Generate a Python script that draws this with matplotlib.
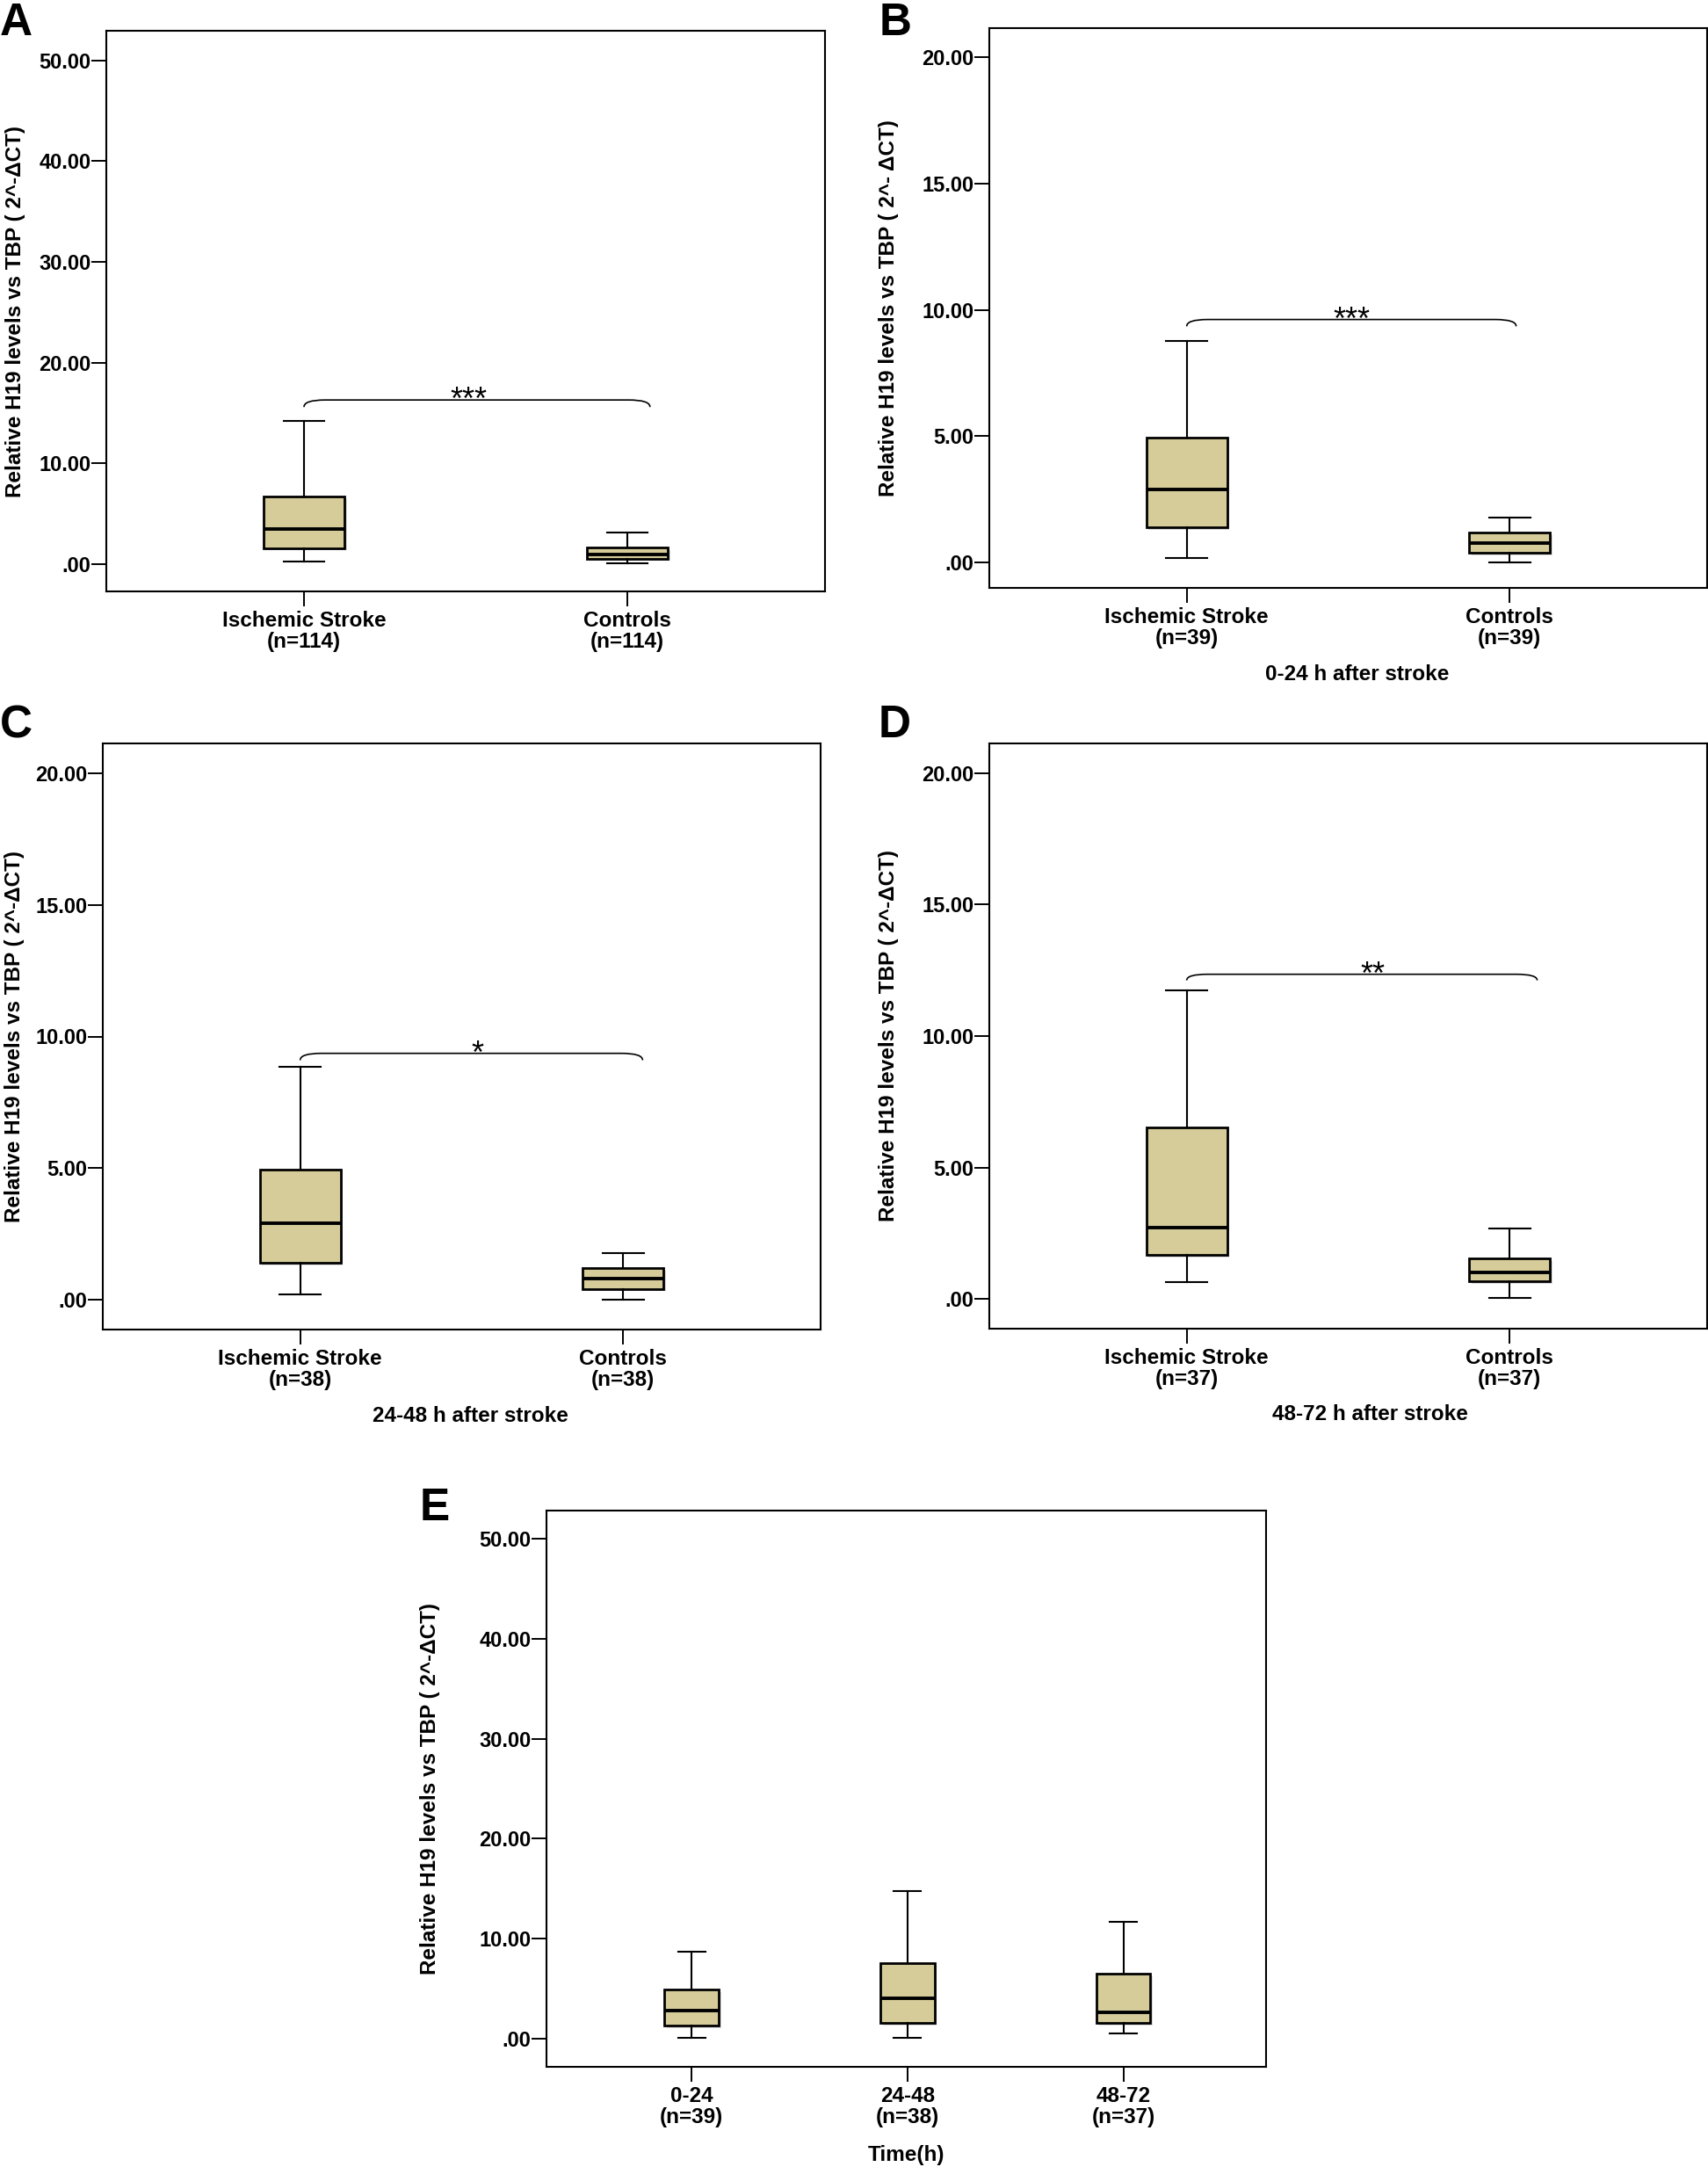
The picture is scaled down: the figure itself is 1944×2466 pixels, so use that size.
import matplotlib
matplotlib.use("Agg")
import matplotlib.pyplot as plt
import matplotlib.patheffects as pe
from matplotlib.path import Path
from matplotlib.patches import PathPatch
from matplotlib.ticker import FuncFormatter

plt.rcParams['font.family'] = ['Liberation Sans', 'DejaVu Sans']

W, H = 1944, 2466

# ---------------- dane ----------------
# kolejnosc w kazdej liscie: [whislo, q1, med, q3, whishi]
labels_A = ['Ischemic Stroke\n(n=114)', 'Controls\n(n=114)']
stroke_A = [0.30, 1.61, 3.45, 6.68, 14.20]
controls_A = [0.12, 0.57, 0.94, 1.68, 3.18]

labels_B = ['Ischemic Stroke\n(n=39)', 'Controls\n(n=39)']
stroke_B = [0.19, 1.40, 2.89, 4.96, 8.78]
controls_B = [0.00, 0.38, 0.79, 1.18, 1.77]

labels_C = ['Ischemic Stroke\n(n=38)', 'Controls\n(n=38)']
stroke_C = [0.21, 1.40, 2.91, 4.94, 8.84]
controls_C = [0.00, 0.42, 0.79, 1.21, 1.79]

labels_D = ['Ischemic Stroke\n(n=37)', 'Controls\n(n=37)']
stroke_D = [0.63, 1.68, 2.70, 6.54, 11.73]
controls_D = [0.05, 0.68, 1.00, 1.54, 2.67]

labels_E = ['0-24\n(n=39)', '24-48\n(n=38)', '48-72\n(n=37)']
time_0_24 = [0.13, 1.32, 2.86, 4.89, 8.71]
time_24_48 = [0.09, 1.58, 4.05, 7.57, 14.74]
time_48_72 = [0.57, 1.58, 2.64, 6.47, 11.66]

# klamry istotnosci: [x start, x koniec, y gora, y koniec], gwiazdki, x gwiazdek
bracket_A = [1.0, 2.07, 16.3, 15.6]
bracket_B = [1.0, 2.02, 9.62, 9.35]
bracket_C = [1.0, 2.06, 9.36, 9.10]
bracket_D = [1.0, 2.085, 12.35, 12.12]
stars = ['***', '***', '*', '**']
stars_x = [1.51, 1.51, 1.55, 1.577]

ylabel_std = 'Relative H19 levels vs TBP ( 2^-\u0394CT)'
ylabel_B = 'Relative H19 levels vs TBP ( 2^- \u0394CT)'

BOX_COLOR = '#D5CC9A'


def rect(l, r, t, b):
    return [l / W, 1 - b / H, (r - l) / W, (b - t) / H]


def fmt(v, pos):
    s = '%.2f' % v
    if s.startswith('0.'):
        s = s[1:]
    return s


def make_stats(rows):
    out = []
    for r in rows:
        out.append(dict(whislo=r[0], q1=r[1], med=r[2], q3=r[3], whishi=r[4], fliers=[]))
    return out


def draw_panel(fig, pos, rows, labels, ylim, yticks, ylabel, ylab_x, letter, letter_xy,
               xlabel=None, xlab_x=0.5, xlab_y=-0.15, bracket=None, star=None, star_x=None):
    ax = fig.add_axes(rect(*pos))
    n = len(rows)
    positions = list(range(1, n + 1))
    if n == 2:
        ax.set_xlim(0.389, 2.611)
    else:
        ax.set_xlim(0.328, 3.661)
    ax.set_ylim(*ylim)

    bp = ax.bxp(make_stats(rows), positions=positions, widths=0.25, capwidths=0.127,
                patch_artist=True, showfliers=False,
                boxprops=dict(facecolor=BOX_COLOR, edgecolor='black', linewidth=2.0),
                medianprops=dict(color='black', linewidth=2.8, solid_capstyle='butt'),
                whiskerprops=dict(color='black', linewidth=1.5),
                capprops=dict(color='black', linewidth=1.5))
    for b in bp['boxes']:
        b.set_path_effects([pe.SimplePatchShadow(offset=(2, -2), shadow_rgbFace='#bbbbbb', alpha=0.5),
                            pe.Normal()])

    ax.set_yticks(yticks)
    ax.yaxis.set_major_formatter(FuncFormatter(fmt))
    ax.set_xticks(positions)
    ax.set_xticklabels(labels, fontsize=17.5, fontweight='bold', linespacing=1.02)
    for t in ax.get_yticklabels():
        t.set_fontsize(17)
        t.set_fontweight('bold')
    ax.tick_params(axis='y', direction='out', length=12, width=1.4, pad=0.5)
    ax.tick_params(axis='x', direction='out', length=12, width=1.4, pad=4)
    for sp in ax.spines.values():
        sp.set_linewidth(1.5)

    ax.text(ylab_x, 0.5, ylabel, transform=ax.transAxes, rotation=90, ha='center', va='center',
            fontsize=17.5, fontweight='bold')
    if xlabel:
        ax.text(xlab_x, xlab_y, xlabel, transform=ax.transAxes, ha='center', va='center',
                fontsize=17.5, fontweight='bold')

    if bracket is not None:
        x0, x1, yt, ye = bracket
        dx = 0.065
        verts = [(x0, ye), (x0, yt), (x0 + dx, yt), (x1 - dx, yt), (x1, yt), (x1, ye)]
        codes = [Path.MOVETO, Path.CURVE3, Path.CURVE3, Path.LINETO, Path.CURVE3, Path.CURVE3]
        ax.add_patch(PathPatch(Path(verts, codes), facecolor='none', edgecolor='black', linewidth=1.2))
        ax.annotate(star, xy=(star_x, yt), xytext=(0, -8), textcoords='offset points',
                    ha='center', va='baseline', fontsize=26)

    fig.text(letter_xy[0] / W, 1 - letter_xy[1] / H, letter, ha='left', va='top',
             fontsize=37, fontweight='bold')
    return ax


fig = plt.figure(figsize=(W / 100, H / 100), dpi=100)

draw_panel(fig, (121, 939, 35, 673), [stroke_A, controls_A], labels_A, (-2.7, 52.95),
           [0, 10, 20, 30, 40, 50], ylabel_std, -0.127, 'A', (0, 2),
           bracket=bracket_A, star=stars[0], star_x=stars_x[0])

draw_panel(fig, (1126, 1943, 32, 669), [stroke_B, controls_B], labels_B, (-1.0, 21.15),
           [0, 5, 10, 15, 20], ylabel_B, -0.140, 'B', (1001, 2),
           xlabel='0-24 h after stroke', xlab_x=0.513, xlab_y=-0.155,
           bracket=bracket_B, star=stars[1], star_x=stars_x[1])

draw_panel(fig, (117, 934, 846, 1513), [stroke_C, controls_C], labels_C, (-1.13, 21.13),
           [0, 5, 10, 15, 20], ylabel_std, -0.123, 'C', (0, 801),
           xlabel='24-48 h after stroke', xlab_x=0.512, xlab_y=-0.147,
           bracket=bracket_C, star=stars[2], star_x=stars_x[2])

draw_panel(fig, (1126, 1943, 846, 1512), [stroke_D, controls_D], labels_D, (-1.13, 21.13),
           [0, 5, 10, 15, 20], ylabel_std, -0.140, 'D', (1000, 801),
           xlabel='48-72 h after stroke', xlab_x=0.531, xlab_y=-0.147,
           bracket=bracket_D, star=stars[3], star_x=stars_x[3])

draw_panel(fig, (622, 1441, 1719, 2352), [time_0_24, time_24_48, time_48_72], labels_E, (-2.8, 52.8),
           [0, 10, 20, 30, 40, 50], ylabel_std, -0.162, 'E', (478, 1692),
           xlabel='Time(h)', xlab_x=0.5, xlab_y=-0.158)

fig.savefig('out.png', dpi=100)
